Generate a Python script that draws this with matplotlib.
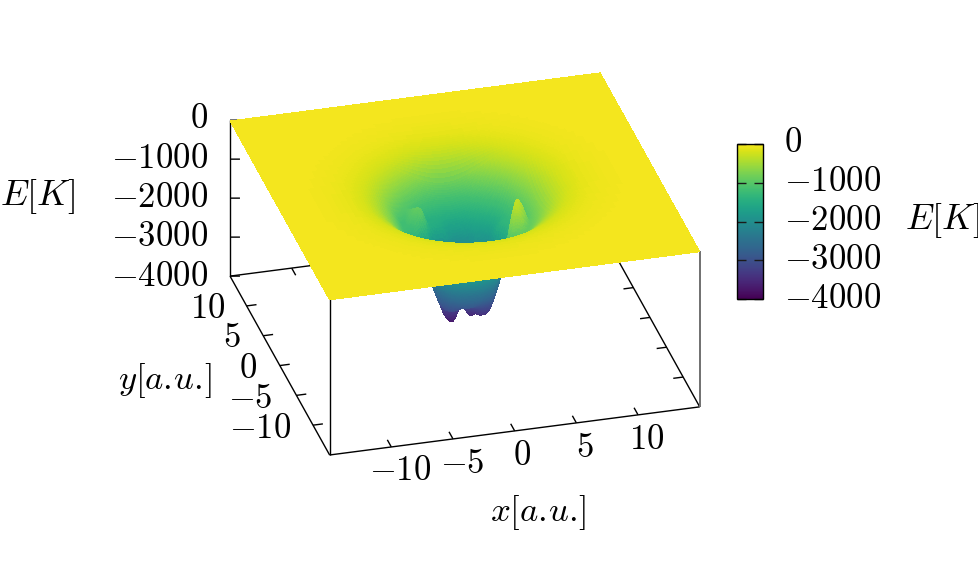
import numpy as np
import matplotlib
matplotlib.use("Agg")
import matplotlib.pyplot as plt
from matplotlib.colors import ListedColormap
from mpl_toolkits.mplot3d import proj3d

plt.rcParams['mathtext.fontset'] = 'cm'
plt.rcParams['font.family'] = ['DejaVu Serif']

# ---- values ----
angles_deg = [-180,-165,-150,-135,-120,-105,-90,-75,-60,-45,-30,-15,0,15,30,45,60,75,90,105,120,135,150,165]
inner_r = [0, 1, 1.5, 2, 2.5, 3, 3.5, 4, 4.5, 5, 5.5, 6, 6.5, 7]
inner_e = [
 [-3100]*24,
 [-3200,-3150,-3100,-3050,-3000,-3000,-3000,-3000,-3000,-3050,-3100,-3150,-3200,-3300,-3300,-3350,-3400,-3350,-3250,-3300,-3350,-3300,-3250,-3200],
 [-3150,-3100,-3050,-2950,-2900,-2900,-2900,-2900,-2900,-2950,-3050,-3200,-3300,-3450,-3500,-3500,-3600,-3400,-3300,-3650,-3550,-3350,-3250,-3200],
 [-2950,-2800,-2700,-2700,-2700,-2700,-2700,-2700,-2700,-2800,-2900,-3050,-3300,-3450,-3550,-3500,-3650,-3450,-3400,-3850,-3700,-3450,-3150,-3050],
 [-2400,-2400,-2400,-2400,-2400,-2400,-2400,-2400,-2400,-2450,-2500,-2600,-2900,-2950,-3000,-3050,-3050,-3000,-3050,-3300,-3250,-2950,-2750,-2600],
 [-2100,-2100,-2100,-2100,-2100,-2100,-2100,-2100,-2100,-2100,-2000,-2000,-2400,-2450,-2450,-2550,-2400,-2500,-2550,-2450,-2650,-2350,-2500,-2300],
 [-1700,-1700,-1800,-1900,-1900,-1900,-1900,-1900,-1800,-1500,-1100,-1100,-1700,-1550,-1550,-2050,-1800,-2050,-2050,-1600,-2100,-1300,-1900,-1900],
 [-1450,-1450,-1550,-1650,-1650,-1650,-1650,-1650,-1550,-900,-250,-250,-900,-1350,-1350,-1750,-1650,-1750,-1750,-1500,-1400,-850,-1100,-1600],
 [-1250,-1250,-1350,-1500,-1500,-1500,-1500,-1500,-1350,-1000,-500,-500,-1000,-1250,-1350,-1500,-1500,-1500,-1500,-1450,-1500,-900,-1100,-1350],
 [-1050,-1000,-1150,-1300,-1300,-1300,-1300,-1300,-1150,-1000,-950,-950,-1050,-1050,-1200,-1300,-1300,-1300,-1300,-1300,-1300,-1000,-1250,-1100],
 [-850,-840,-950,-1100,-1100,-1100,-1100,-1100,-950,-840,-840,-840,-850,-900,-1000,-1100,-1100,-1100,-1100,-1100,-1100,-1050,-1050,-880],
 [-680,-680,-750,-850,-850,-850,-850,-850,-750,-680,-680,-680,-680,-720,-780,-850,-850,-850,-850,-850,-850,-850,-800,-700],
 [-530,-530,-570,-620,-620,-620,-620,-620,-570,-530,-530,-530,-530,-550,-590,-620,-620,-620,-620,-620,-620,-620,-600,-550],
 [-400,-400,-420,-430,-430,-430,-430,-430,-420,-400,-400,-400,-400,-410,-420,-430,-430,-430,-430,-430,-430,-430,-430,-410],
]
outer_r = [7.5, 8, 9, 10, 12, 15, 22]
outer_e = [-300, -210, -120, -70, -30, -20, -20]

z_ticks = [0, -1000, -2000, -3000, -4000]
xy_ticks = [-10, -5, 0, 5, 10]
x_range = (-15, 15)
z_range = (-4000, 0)

palette = ListedColormap(plt.cm.viridis(np.linspace(0, 0.985, 256)))

W, H = 979, 565
fig = plt.figure(figsize=(W/100, H/100), dpi=100)
ax = fig.add_subplot(projection='3d', computed_zorder=False)
ax.set_proj_type('ortho')
ax.view_init(elev=28.9, azim=-105.06)
ax.set_box_aspect((383, 383, 178))
ax.set_axis_off()

# display resampling of the estimated table onto a drawing mesh
r_all = np.array(inner_r + outer_r, float)
table = np.vstack([np.array(inner_e, float), np.tile(np.array(outer_e, float)[:, None], (1, 24))])
fine = np.arange(-150, 151) / 10.0
FX, FY = np.meshgrid(fine, fine)
FR = np.hypot(FX, FY)
FT = np.degrees(np.arctan2(FY, FX))
ti = (FT + 180) / 15.0
t0 = np.floor(ti).astype(int) % 24
t1 = (t0 + 1) % 24
tf = ti - np.floor(ti)
ri = np.clip(np.searchsorted(r_all, FR, side='right') - 1, 0, len(r_all) - 2)
rf = (FR - r_all[ri]) / (r_all[ri + 1] - r_all[ri])
FZ = (table[ri, t0] * (1 - tf) + table[ri, t1] * tf) * (1 - rf) + \
     (table[ri + 1, t0] * (1 - tf) + table[ri + 1, t1] * tf) * rf
k = np.ones(3) / 3
for _ in range(2):
    P = np.pad(FZ, 1, mode='edge')
    P = np.apply_along_axis(lambda v: np.convolve(v, k, mode='valid'), 0, P)
    P = np.apply_along_axis(lambda v: np.convolve(v, k, mode='valid'), 1, P)
    FZ = P
idx = np.unique(np.r_[np.arange(0, 60, 5), np.arange(60, 90, 2), np.arange(90, 211, 1),
                      np.arange(212, 240, 2), np.arange(240, 301, 5), [300]])
SX, SY, SZ = FX[np.ix_(idx, idx)], FY[np.ix_(idx, idx)], FZ[np.ix_(idx, idx)]

LC = 'black'
LW = 1.0
lo, hi = x_range
zb, zt = z_range
def line(xs, ys, zs, lw=LW, c=LC):
    ax.plot(xs, ys, zs, color=c, lw=lw, zorder=0, solid_capstyle='butt')

# box
line([lo, hi], [lo, lo], [zb, zb])
line([lo, lo], [lo, hi], [zb, zb])
line([lo, hi], [hi, hi], [zb, zb])
line([hi, hi], [lo, hi], [zb, zb])
line([lo, lo], [lo, lo], [zb, zt])
line([lo, lo], [hi, hi], [zb, zt])
line([hi, hi], [lo, lo], [zb, zt], lw=1.4, c='#707070')
# ticks
for t in xy_ticks:
    line([t, t], [lo, lo + 1.2], [zb, zb])
    line([t, t], [hi, hi - 1.2], [zb, zb])
    line([lo, lo + 0.8], [t, t], [zb, zb])
    line([hi, hi - 0.8], [t, t], [zb, zb])
for z in z_ticks:
    line([lo, lo + 0.75], [hi, hi - 0.2], [z, z])

ax.plot_surface(SX, SY, SZ, rstride=1, cstride=1, cmap=palette, vmin=zb, vmax=zt,
                linewidth=0, antialiased=False, shade=False, zorder=1)
ax.set_xlim(lo, hi, view_margin=0)
ax.set_ylim(lo, hi, view_margin=0)
ax.set_zlim(zb, zt, view_margin=0)

# place the 3D box on the figure
cx = np.array([lo, hi, lo, lo], float)
cy = np.array([lo, lo, hi, lo], float)
cz = np.array([zb, zb, zb, zt], float)
target = np.array([[329.5, 456], [699.5, 407], [230.5, 275], [329.5, 299]], float)
def measured():
    ax.apply_aspect()
    xs, ys, _ = proj3d.proj_transform(cx, cy, cz, ax.get_proj())
    p = ax.transData.transform(np.c_[xs, ys])
    p[:, 1] = H - p[:, 1]
    return p
S, L, B = 560.0, 200.0, 0.0
for _ in range(4):
    ax.set_position([L / W, B / H, S / W, S / H])
    p = measured()
    S *= np.linalg.norm(target[1] - target[0]) / np.linalg.norm(p[1] - p[0])
    ax.set_position([L / W, B / H, S / W, S / H])
    d = (target - measured()).mean(axis=0)
    L += d[0]
    B -= d[1]
ax.set_position([L / W, B / H, S / W, S / H])

def T(x, y, s, ha='center', va='center', fs=25):
    fig.text(x / W, 1 - y / H, s, fontsize=fs, ha=ha, va=va, color='black')
def num(v):
    return '$%d$' % v

# z labels
for v, y in zip(z_ticks, [118, 158, 197, 236, 276]):
    T(208, y, num(v), ha='right')
T(38, 197, r'$E[K]$', fs=26)
# y labels
for v, xr, y in zip(xy_ticks, [291, 273, 257, 241, 225], [428, 398, 368, 337, 308]):
    T(xr, y, num(v), ha='right')
T(165, 380, r'$y[a.\!u.\!]$')
# x labels
for v, xc, y in zip(xy_ticks, [400, 462, 522, 585, 647], [470, 463, 455, 447, 439]):
    T(xc, y, num(v))
T(538, 512, r'$x[a.\!u.\!]$')

# colour bar
cax = fig.add_axes([737 / W, 1 - 299 / H, 26 / W, 155 / H])
sm = plt.cm.ScalarMappable(norm=plt.Normalize(zb, zt), cmap=palette)
cb = fig.colorbar(sm, cax=cax)
cb.outline.set_linewidth(1.0)
cb.set_ticks(z_ticks)
cb.set_ticklabels([])
cax.tick_params(axis='y', which='both', left=True, right=True, direction='in', length=6.5, width=1.0, color='#1a1a1a')
for v, y in zip(z_ticks, [142, 181, 220, 259, 298]):
    T(784, y, num(v), ha='left')
T(943, 221, r'$E[K]$', fs=26)

fig.savefig('out.png', dpi=100)
